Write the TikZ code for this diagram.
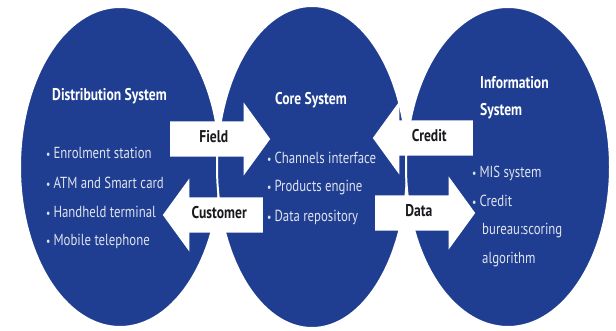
\documentclass[tikz,border=0pt]{standalone}
\usepackage{fontspec}
\setmainfont{PT Sans}[FakeStretch=0.8]
\usetikzlibrary{shapes.geometric,shapes.arrows}
\definecolor{sysblue}{RGB}{32,62,145}
\definecolor{itemgray}{RGB}{222,227,238}
\definecolor{labelink}{RGB}{25,25,30}
\newcommand\bulletmark{{\fontsize{12}{12}\selectfont\textbullet}\hspace{3pt}}
\begin{document}
\begin{tikzpicture}[x=1pt,y=-1pt,
  sysell/.style={ellipse, fill=sysblue, draw=white, line width=2pt, inner sep=0pt},
  title/.style={font=\bfseries\fontsize{17}{19}\selectfont, text=white, anchor=west, inner sep=0pt},
  item/.style={font=\fontsize{16}{18}\selectfont, text=itemgray, anchor=west, inner sep=0pt},
  blockarrow/.style={single arrow, fill=white, draw=none, minimum height=100pt,
    single arrow head extend=19pt, single arrow tip angle=108,
    text height=11pt, text depth=3pt, inner ysep=10.5pt, inner xsep=2pt,
    font=\bfseries\fontsize{17}{19}\selectfont, text=labelink},
]
\useasboundingbox[fill=white] (0,0) rectangle (616,331);

% the three systems
\node[sysell, minimum width=200pt, minimum height=320pt] (dist) at (120,167) {};
\node[sysell, minimum width=190pt, minimum height=322pt] (core) at (312,167) {};
\node[sysell, minimum width=204pt, minimum height=320pt] (info) at (508,167) {};

% distribution system
\node[title] (disttitle) at (52,96) {Distribution System};
\node[item] (d1) at (46,153) {\bulletmark Enrolment station};
\node[item] (d2) at (46,183) {\bulletmark ATM and Smart card};
\node[item] (d3) at (46,212) {\bulletmark Handheld terminal};
\node[item] (d4) at (46,241) {\bulletmark Mobile telephone};

% core system
\node[title] (coretitle) at (275,100) {Core System};
\node[item] (c1) at (267,158) {\bulletmark Channels interface};
\node[item] (c2) at (267,188) {\bulletmark Products engine};
\node[item] (c3) at (267,217) {\bulletmark Data repository};

% information system
\node[title] (infotitle1) at (480,83) {Information};
\node[title] (infotitle2) at (480,111) {System};
\node[item] (i1) at (472,173) {\bulletmark MIS system};
\node[item] (i2) at (472,201) {\bulletmark Credit};
\node[item] (i3) at (482,231) {bureau:scoring};
\node[item] (i4) at (482,260) {algorithm};

% flows between the systems
\node[blockarrow, anchor=tail] (field) at (170,139) {Field};
\node[blockarrow, shape border rotate=180, anchor=tail] (customer) at (263,215) {Customer};
\node[blockarrow, shape border rotate=180, anchor=tail] (credit) at (473,138) {Credit};
\node[blockarrow, anchor=tail] (data) at (375,213) {Data};
\end{tikzpicture}
\end{document}
